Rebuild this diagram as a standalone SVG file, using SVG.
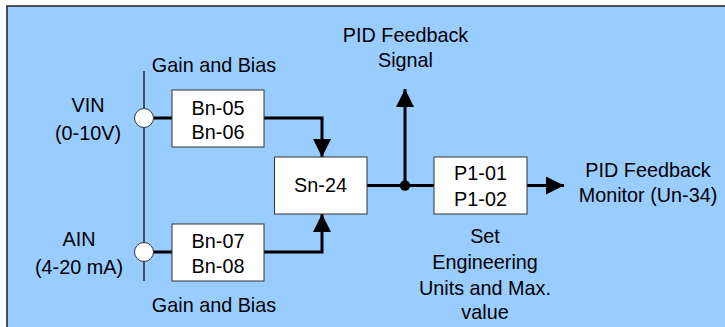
<svg xmlns="http://www.w3.org/2000/svg" width="725" height="327" viewBox="0 0 725 327">
<style>
text{font-family:"Liberation Sans",Arial,sans-serif;font-size:19.8px;fill:#000;text-anchor:middle}
.box{fill:#fff;stroke:#333;stroke-width:1}
.wire{fill:none;stroke:#000;stroke-width:3}
.thin{fill:none;stroke:#000;stroke-width:1.2}
</style>
<defs>
<marker id="ah" markerUnits="userSpaceOnUse" markerWidth="18" markerHeight="18" viewBox="0 0 18 18" refX="18" refY="9" orient="auto">
<path d="M0,0 L18,9 L0,18 Z" fill="#000"/>
</marker>
</defs>
<rect x="0" y="0" width="725" height="327" fill="#fff"/>
<rect x="7" y="6" width="730" height="330" fill="#99CCFF"/>
<path d="M7,336 V6 H725" fill="none" stroke="#222" stroke-width="1.5"/>
<g id="connectors">
<line class="thin" x1="144" y1="71" x2="144" y2="281"/>
<line class="wire" x1="154" y1="118" x2="172" y2="118"/>
<line class="wire" x1="154" y1="252" x2="172" y2="252"/>
<path class="wire" d="M264,118 H322 V157" marker-end="url(#ah)"/>
<path class="wire" d="M264,252 H322 V214" marker-end="url(#ah)"/>
<line class="wire" x1="367" y1="185.5" x2="434" y2="185.5"/>
<line class="wire" x1="405" y1="185.5" x2="405" y2="89" marker-end="url(#ah)"/>
<line class="wire" x1="527" y1="185.5" x2="564" y2="185.5" marker-end="url(#ah)"/>
<circle cx="405" cy="185.5" r="5.2" fill="#000"/>
</g>
<g id="vin">
<circle cx="144" cy="118" r="9.5" fill="#fff" stroke="#333" stroke-width="1"/>
<text x="88" y="112">VIN</text>
<text x="88" y="140">(0-10V)</text>
</g>
<g id="ain">
<circle cx="144" cy="252" r="9.5" fill="#fff" stroke="#333" stroke-width="1"/>
<text x="79" y="246">AIN</text>
<text x="79" y="274">(4-20 mA)</text>
</g>
<g id="label-gain-top"><text x="214" y="72">Gain and Bias</text></g>
<g id="label-gain-bottom"><text x="214" y="312">Gain and Bias</text></g>
<g id="bn05">
<rect class="box" x="172" y="90" width="92" height="57"/>
<text x="218" y="115">Bn-05</text>
<text x="218" y="139">Bn-06</text>
</g>
<g id="bn07">
<rect class="box" x="172" y="224" width="92" height="57"/>
<text x="218" y="248">Bn-07</text>
<text x="218" y="273">Bn-08</text>
</g>
<g id="sn24">
<rect class="box" x="274.5" y="157" width="92.5" height="57"/>
<text x="320.5" y="192">Sn-24</text>
</g>
<g id="p1">
<rect class="box" x="434" y="157" width="93" height="57"/>
<text x="480.5" y="180">P1-01</text>
<text x="480.5" y="206">P1-02</text>
</g>
<g id="label-pid-signal">
<text x="405.5" y="42">PID Feedback</text>
<text x="405.5" y="67">Signal</text>
</g>
<g id="label-pid-monitor">
<text x="648" y="177">PID Feedback</text>
<text x="648" y="202">Monitor (Un-34)</text>
</g>
<g id="label-set">
<text x="485" y="243">Set</text>
<text x="485" y="269">Engineering</text>
<text x="485" y="295">Units and Max.</text>
<text x="485" y="319">value</text>
</g>
</svg>
